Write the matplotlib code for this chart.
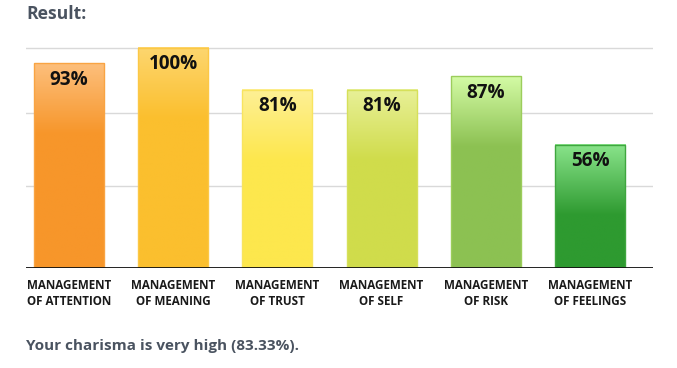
import matplotlib
matplotlib.use("Agg")
import matplotlib.pyplot as plt
import numpy as np
from matplotlib.colors import to_rgb

plt.rcParams['font.family'] = ['Open Sans', 'DejaVu Sans']

# data
categories = ["MANAGEMENT\nOF ATTENTION", "MANAGEMENT\nOF MEANING", "MANAGEMENT\nOF TRUST",
              "MANAGEMENT\nOF SELF", "MANAGEMENT\nOF RISK", "MANAGEMENT\nOF FEELINGS"]
values = [93, 100, 81, 81, 87, 56]
labels = ["93%", "100%", "81%", "81%", "87%", "56%"]
top_colors = ["#fdbf7c", "#fdd66f", "#fef096", "#e8f098", "#d4fba5", "#8ae48b"]
bottom_colors = ["#f7962a", "#fbbf2e", "#fde74d", "#d0dc4b", "#8cc152", "#2e9a30"]
edge_colors = ["#f9a443", "#fcc846", "#f8e460", "#d6e05a", "#9ccd5c", "#3fa63f"]
grid_vals = [37.2, 70.4, 100]
summary = "Your charisma is very high (83.33%)."

fig = plt.figure(figsize=(6.77, 3.68), dpi=100)
ax = fig.add_axes([26/677, 100/368, 627/677, 221/368])

w = 0.672
fade = 32.0  # gradient depth from the top of each bar
for i, v in enumerate(values):
    ys = np.linspace(0, v, 200)
    t = np.clip((ys - (v - fade)) / fade, 0, 1)[:, None]
    c0 = np.array(to_rgb(bottom_colors[i]))
    c1 = np.array(to_rgb(top_colors[i]))
    img = (c0 * (1 - t) + c1 * t)[:, None, :]
    ax.imshow(img, extent=[i - w/2, i + w/2, 0, v], origin='lower',
              aspect='auto', zorder=2, interpolation='bilinear')
    ax.bar(i, v, width=w, fill=False, edgecolor=edge_colors[i], linewidth=1.0, zorder=3)
    ax.text(i, v - 3.0, labels[i], ha='center', va='top', fontsize=13.6,
            fontweight='bold', color='#111111', zorder=4)

for g in grid_vals:
    ax.axhline(g, color='#d9d9d9', linewidth=1.0, zorder=1)
ax.axhline(0, color='#111111', linewidth=1.3, zorder=5)

ax.set_xlim(-0.413, 5.605)
ax.set_ylim(0, 100.3)
ax.set_xticks(range(len(categories)))
ax.set_xticklabels(categories, fontsize=8.4, fontweight='bold', color='#1a1a1a', linespacing=1.3)
ax.tick_params(axis='x', length=0, pad=8)
ax.set_yticks([])
for s in ax.spines.values():
    s.set_visible(False)

fig.text(26/677, 1 - 14/368, "Result:", ha='left', va='center', fontsize=12.6,
         fontweight='bold', color='#4a5360')
fig.text(26/677, 1 - 346/368, summary, ha='left', va='center', fontsize=11,
         fontweight='bold', color='#4a5360')

fig.savefig("out.png", dpi=100)
